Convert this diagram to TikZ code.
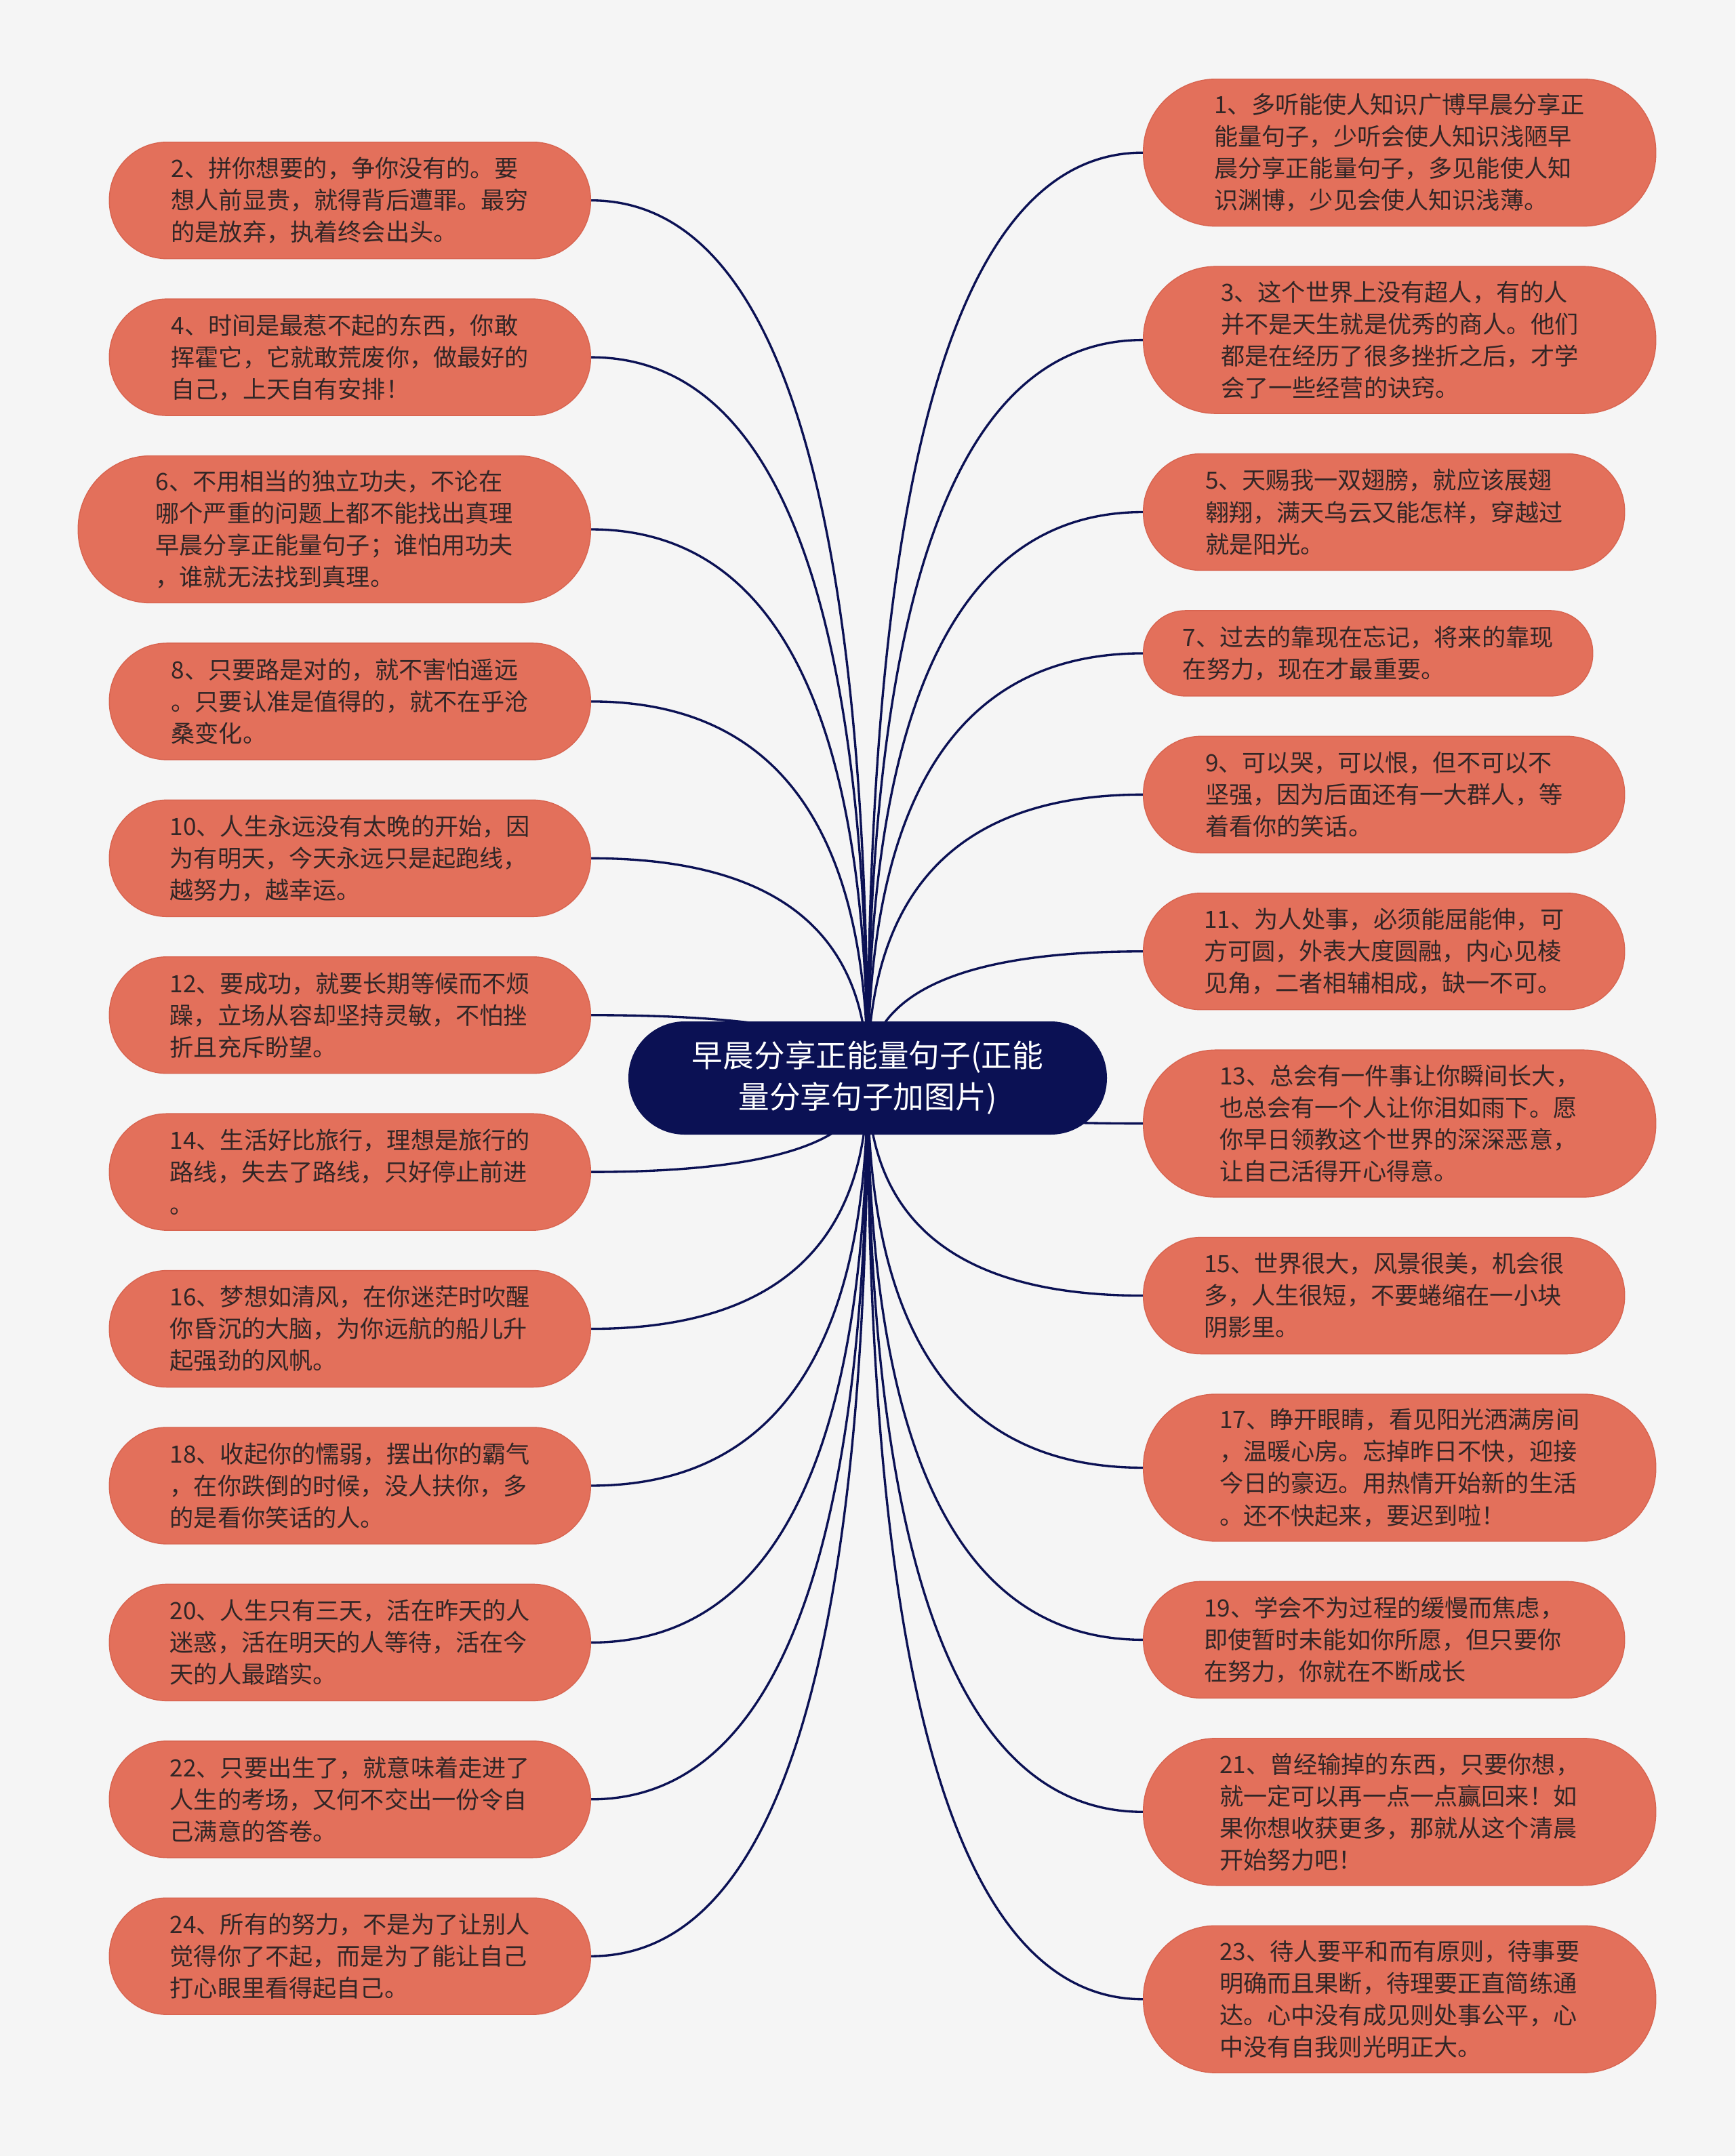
\documentclass[tikz,border=0pt]{standalone}
\usepackage{fontspec}
\setmainfont{Noto Sans CJK SC}
\usepackage{tikz}
\usetikzlibrary{positioning,calc,backgrounds}
\definecolor{pagebg}{RGB}{245,245,245}
\definecolor{leafred}{RGB}{227,112,91}
\definecolor{leafedge}{RGB}{216,100,80}
\definecolor{rootnavy}{RGB}{11,17,84}
\definecolor{textdark}{RGB}{50,38,38}

\begin{document}
\begin{tikzpicture}[
    node distance=0.58cm,
    leaf/.style={rectangle, fill=leafred, draw=leafedge, line width=0.4pt, text=textdark, align=left, inner sep=0pt,
        font=\fontsize{10}{13.4}\selectfont},
    leaftwo/.style={leaf, minimum width=6.63cm, minimum height=1.26cm, rounded corners=0.62cm},
    leafthree/.style={leaf, minimum width=7.10cm, minimum height=1.72cm, rounded corners=0.85cm},
    leaffour/.style={leaf, minimum width=7.56cm, minimum height=2.17cm, rounded corners=1.07cm},
    root/.style={rectangle, fill=rootnavy, text=white, align=center, inner sep=0pt, minimum width=7.06cm, minimum height=1.67cm,
        rounded corners=0.83cm, font=\fontsize{13}{17.4}\selectfont},
    link/.style={draw=rootnavy, line width=0.95pt,
        to path={.. controls ($(\tikztostart)!0.667!(\tikztostart |- \tikztotarget)$) and ($(\tikztotarget)!0.667!(\tikztostart |- \tikztotarget)$) .. (\tikztotarget)}}
]

% ============ centre ============
\node[root] (root) at (12.80,-15.905) {早晨分享正能量句子(正能\\量分享句子加图片)};

% ============ left column ============
\node[leafthree, anchor=north east] (s2) at (8.72,-2.09) {2、拼你想要的，争你没有的。要\\想人前显贵，就得背后遭罪。最穷\\的是放弃，执着终会出头。};
\node[leafthree, below=of s2.south east, anchor=north east] (s4) {4、时间是最惹不起的东西，你敢\\挥霍它，它就敢荒废你，做最好的\\自己，上天自有安排！};
\node[leaffour, below=of s4.south east, anchor=north east] (s6) {6、不用相当的独立功夫，不论在\\哪个严重的问题上都不能找出真理\\早晨分享正能量句子；谁怕用功夫\\，谁就无法找到真理。};
\node[leafthree, below=of s6.south east, anchor=north east] (s8) {8、只要路是对的，就不害怕遥远\\。只要认准是值得的，就不在乎沧\\桑变化。};
\node[leafthree, below=of s8.south east, anchor=north east] (s10) {10、人生永远没有太晚的开始，因\\为有明天，今天永远只是起跑线，\\越努力，越幸运。};
\node[leafthree, below=of s10.south east, anchor=north east] (s12) {12、要成功，就要长期等候而不烦\\躁，立场从容却坚持灵敏，不怕挫\\折且充斥盼望。};
\node[leafthree, below=of s12.south east, anchor=north east] (s14) {14、生活好比旅行，理想是旅行的\\路线，失去了路线，只好停止前进\\。};
\node[leafthree, below=of s14.south east, anchor=north east] (s16) {16、梦想如清风，在你迷茫时吹醒\\你昏沉的大脑，为你远航的船儿升\\起强劲的风帆。};
\node[leafthree, below=of s16.south east, anchor=north east] (s18) {18、收起你的懦弱，摆出你的霸气\\，在你跌倒的时候，没人扶你，多\\的是看你笑话的人。};
\node[leafthree, below=of s18.south east, anchor=north east] (s20) {20、人生只有三天，活在昨天的人\\迷惑，活在明天的人等待，活在今\\天的人最踏实。};
\node[leafthree, below=of s20.south east, anchor=north east] (s22) {22、只要出生了，就意味着走进了\\人生的考场，又何不交出一份令自\\己满意的答卷。};
\node[leafthree, below=of s22.south east, anchor=north east] (s24) {24、所有的努力，不是为了让别人\\觉得你了不起，而是为了能让自己\\打心眼里看得起自己。};

% ============ right column ============
\node[leaffour, anchor=north west] (s1) at (16.86,-1.16) {1、多听能使人知识广博早晨分享正\\能量句子，少听会使人知识浅陋早\\晨分享正能量句子，多见能使人知\\识渊博，少见会使人知识浅薄。};
\node[leaffour, below=of s1.south west, anchor=north west] (s3) {3、这个世界上没有超人，有的人\\并不是天生就是优秀的商人。他们\\都是在经历了很多挫折之后，才学\\会了一些经营的诀窍。};
\node[leafthree, below=of s3.south west, anchor=north west] (s5) {5、天赐我一双翅膀，就应该展翅\\翱翔，满天乌云又能怎样，穿越过\\就是阳光。};
\node[leaftwo, below=of s5.south west, anchor=north west] (s7) {7、过去的靠现在忘记，将来的靠现\\在努力，现在才最重要。};
\node[leafthree, below=of s7.south west, anchor=north west] (s9) {9、可以哭，可以恨，但不可以不\\坚强，因为后面还有一大群人，等\\着看你的笑话。};
\node[leafthree, below=of s9.south west, anchor=north west] (s11) {11、为人处事，必须能屈能伸，可\\方可圆，外表大度圆融，内心见棱\\见角，二者相辅相成，缺一不可。};
\node[leaffour, below=of s11.south west, anchor=north west] (s13) {13、总会有一件事让你瞬间长大，\\也总会有一个人让你泪如雨下。愿\\你早日领教这个世界的深深恶意，\\让自己活得开心得意。};
\node[leafthree, below=of s13.south west, anchor=north west] (s15) {15、世界很大，风景很美，机会很\\多，人生很短，不要蜷缩在一小块\\阴影里。};
\node[leaffour, below=of s15.south west, anchor=north west] (s17) {17、睁开眼睛，看见阳光洒满房间\\，温暖心房。忘掉昨日不快，迎接\\今日的豪迈。用热情开始新的生活\\。还不快起来，要迟到啦！};
\node[leafthree, below=of s17.south west, anchor=north west] (s19) {19、学会不为过程的缓慢而焦虑，\\即使暂时未能如你所愿，但只要你\\在努力，你就在不断成长};
\node[leaffour, below=of s19.south west, anchor=north west] (s21) {21、曾经输掉的东西，只要你想，\\就一定可以再一点一点赢回来！如\\果你想收获更多，那就从这个清晨\\开始努力吧！};
\node[leaffour, below=of s21.south west, anchor=north west] (s23) {23、待人要平和而有原则，待事要\\明确而且果断，待理要正直简练通\\达。心中没有成见则处事公平，心\\中没有自我则光明正大。};

% ============ links ============
\begin{scope}[on background layer]
\fill[pagebg] (0,0) rectangle (25.60,-31.81);
\draw[link] (root.center) to (s2.east);
\draw[link] (root.center) to (s4.east);
\draw[link] (root.center) to (s6.east);
\draw[link] (root.center) to (s8.east);
\draw[link] (root.center) to (s10.east);
\draw[link] (root.center) to (s12.east);
\draw[link] (root.center) to (s14.east);
\draw[link] (root.center) to (s16.east);
\draw[link] (root.center) to (s18.east);
\draw[link] (root.center) to (s20.east);
\draw[link] (root.center) to (s22.east);
\draw[link] (root.center) to (s24.east);
\draw[link] (root.center) to (s1.west);
\draw[link] (root.center) to (s3.west);
\draw[link] (root.center) to (s5.west);
\draw[link] (root.center) to (s7.west);
\draw[link] (root.center) to (s9.west);
\draw[link] (root.center) to (s11.west);
\draw[link] (root.center) to (s13.west);
\draw[link] (root.center) to (s15.west);
\draw[link] (root.center) to (s17.west);
\draw[link] (root.center) to (s19.west);
\draw[link] (root.center) to (s21.west);
\draw[link] (root.center) to (s23.west);
\end{scope}

\end{tikzpicture}
\end{document}
